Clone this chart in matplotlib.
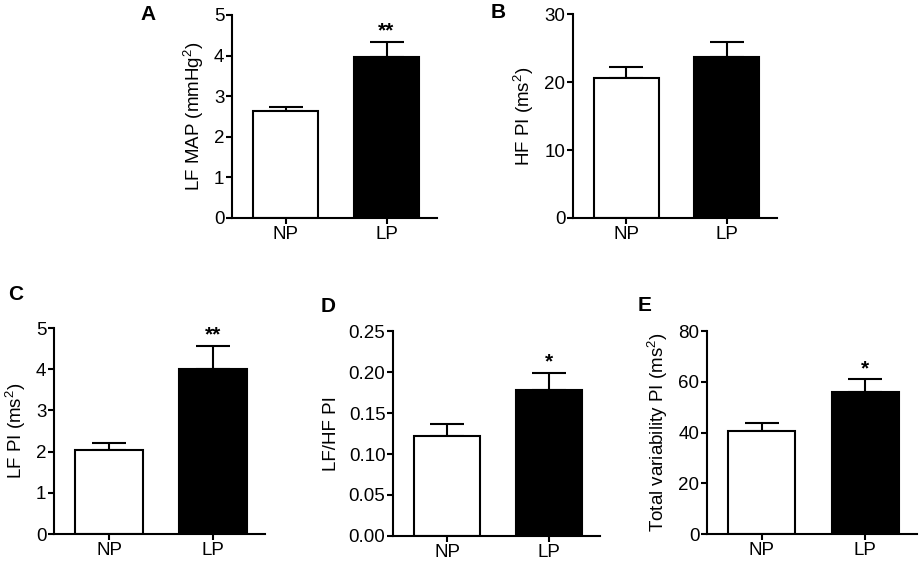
import matplotlib
matplotlib.use("Agg")
import matplotlib.pyplot as plt

plt.rcParams['font.family'] = ['Liberation Sans', 'DejaVu Sans']
plt.rcParams['mathtext.fontset'] = 'custom'
plt.rcParams['mathtext.rm'] = 'Liberation Sans'

# groups
groups = ["NP", "LP"]

# mean values and upper SEM for each panel
lf_map = [2.63, 3.96]
lf_map_err = [0.10, 0.38]

hf_pi = [20.6, 23.7]
hf_pi_err = [1.6, 2.2]

lf_pi = [2.03, 4.01]
lf_pi_err = [0.18, 0.56]

lfhf_pi = [0.122, 0.178]
lfhf_pi_err = [0.0146, 0.021]

total_pi = [40.6, 55.9]
total_pi_err = [3.1, 5.2]

stars = {"A": "**", "B": "", "C": "**", "D": "*", "E": "*"}


def draw_panel(ax, values, errors, ylabel, ymax, yticks, ticklabels, letter):
    x = [0, 1]
    ax.bar(x, values, width=0.65, color=["white", "black"],
           edgecolor="black", linewidth=1.5, zorder=2)
    ax.errorbar(x, values, yerr=[[0, 0], errors], fmt="none",
                ecolor="black", elinewidth=1.5, capsize=12, capthick=1.5, zorder=1)
    ax.set_xlim(-0.53, 1.5)
    ax.set_ylim(0, ymax)
    ax.set_xticks(x)
    ax.set_xticklabels(groups)
    ax.set_yticks(yticks)
    ax.set_yticklabels(ticklabels)
    ax.set_ylabel(ylabel, fontsize=13.5, labelpad=6)
    ax.spines["top"].set_visible(False)
    ax.spines["right"].set_visible(False)
    ax.spines["left"].set_linewidth(1.5)
    ax.spines["bottom"].set_linewidth(1.5)
    ax.tick_params(axis="both", labelsize=13.5, width=1.5, length=4.5, pad=1)
    s = stars[letter]
    if s:
        ax.text(1, values[1] + errors[1] + ymax * 0.005, s, ha="center", va="bottom",
                fontsize=15, fontweight="bold")


fig = plt.figure(figsize=(9.2, 5.63), dpi=100)

axA = fig.add_axes([0.2522, 0.6128, 0.2228, 0.3606])
draw_panel(axA, lf_map, lf_map_err, "LF MAP (mmHg$^2$)", 5,
           [0, 1, 2, 3, 4, 5], ["0", "1", "2", "3", "4", "5"], "A")

axB = fig.add_axes([0.6228, 0.6128, 0.2218, 0.3622])
draw_panel(axB, hf_pi, hf_pi_err, "HF PI (ms$^2$)", 30,
           [0, 10, 20, 30], ["0", "10", "20", "30"], "B")

axC = fig.add_axes([0.0587, 0.0515, 0.2293, 0.3659])
draw_panel(axC, lf_pi, lf_pi_err, "LF PI (ms$^2$)", 5,
           [0, 1, 2, 3, 4, 5], ["0", "1", "2", "3", "4", "5"], "C")

axD = fig.add_axes([0.4272, 0.048, 0.2248, 0.364])
draw_panel(axD, lfhf_pi, lfhf_pi_err, "LF/HF PI", 0.25,
           [0, 0.05, 0.10, 0.15, 0.20, 0.25],
           ["0.00", "0.05", "0.10", "0.15", "0.20", "0.25"], "D")

axE = fig.add_axes([0.7685, 0.0515, 0.2282, 0.3605])
draw_panel(axE, total_pi, total_pi_err, "Total variability PI (ms$^2$)", 80,
           [0, 20, 40, 60, 80], ["0", "20", "40", "60", "80"], "E")

# panel letters
fig.text(148 / 920, 1 - 15 / 563, "A", fontsize=15, fontweight="bold", ha="center", va="center")
fig.text(498 / 920, 1 - 13 / 563, "B", fontsize=15, fontweight="bold", ha="center", va="center")
fig.text(16 / 920, 1 - 295 / 563, "C", fontsize=15, fontweight="bold", ha="center", va="center")
fig.text(328 / 920, 1 - 307 / 563, "D", fontsize=15, fontweight="bold", ha="center", va="center")
fig.text(645 / 920, 1 - 305 / 563, "E", fontsize=15, fontweight="bold", ha="center", va="center")

fig.savefig("out.png", dpi=100)
